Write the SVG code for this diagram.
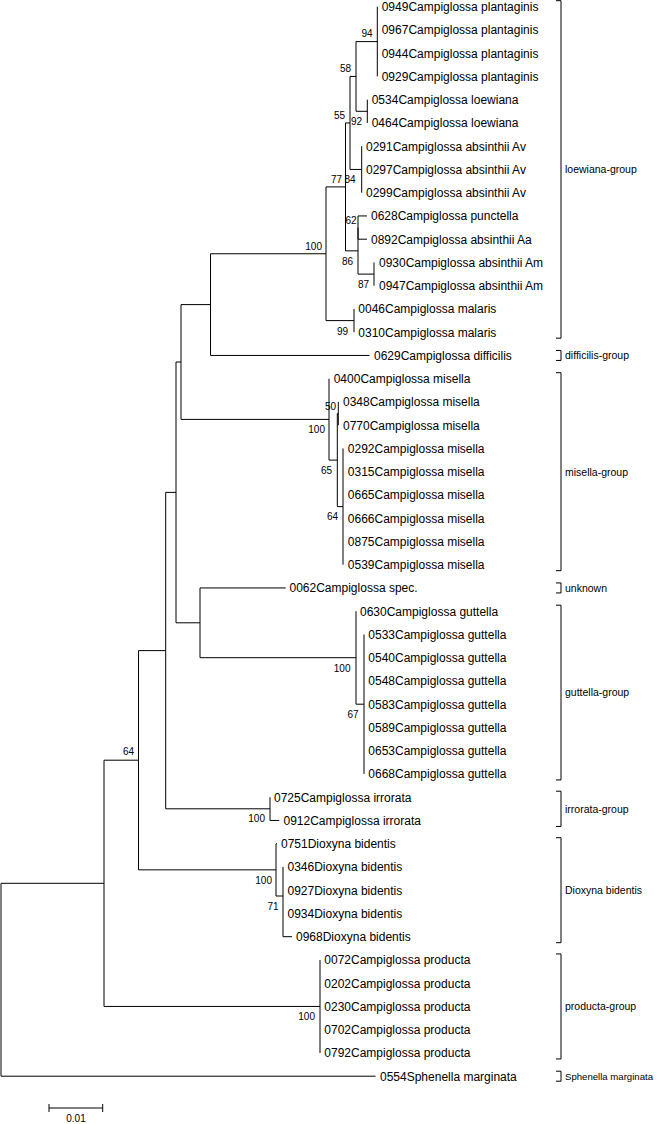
<svg xmlns="http://www.w3.org/2000/svg" width="659" height="1124" viewBox="0 0 659 1124">
<style>
.b{fill:none;stroke:#000;stroke-width:1}
text{font-family:"Liberation Sans",Arial,sans-serif;fill:#000}
.t{font-size:12px}
.s{font-size:10px;text-anchor:end}
.g{font-size:10.5px}
</style>
<rect width="659" height="1124" fill="#fff"/>
<g id="connectors" class="b">
<path d="M1 883.3V1076.2M1 883.3H104M1 1076.2H375.5"/>
<path d="M104 760.2V1006.45M104 760.2H138.5M104 1006.45H320"/>
<path d="M320 959.95V1052.95"/>
<path d="M138.5 650.6V869.85M138.5 650.6H165.7M138.5 869.85H276"/>
<path d="M276 843.7V896M276 843.7H277M276 896H283"/>
<path d="M283 866.95V936.7M283 936.7H292"/>
<path d="M165.7 492.4V808.8M165.7 492.4H176M165.7 808.8H270"/>
<path d="M270 797.2V820.45M270 820.45H279.3"/>
<path d="M176 362V622.8M176 362H181M176 622.8H200"/>
<path d="M200 587.95V657.7M200 587.95H285.7M200 657.7H356"/>
<path d="M356 611.2V704.2M356 704.2H364"/>
<path d="M364 634.45V773.95"/>
<path d="M181 304.6V419.4M181 304.6H210.5M181 419.4H329"/>
<path d="M329 378.7V460.1M329 460.1H337.3"/>
<path d="M337.3 413.6V506.6M337.3 413.6H338.3M337.3 506.6H343"/>
<path d="M338.3 401.95V425.2"/>
<path d="M343 448.45V564.7"/>
<path d="M210.5 253.75V355.45M210.5 253.75H326M210.5 355.45H369.5"/>
<path d="M326 186.9V320.6M326 186.9H345.5M326 320.6H354"/>
<path d="M354 308.95V332.2"/>
<path d="M345.5 122.95V250.85M345.5 122.95H350M345.5 250.85H358"/>
<path d="M350 76.45V169.45M350 76.45H356M350 169.45H361.7"/>
<path d="M356 41.6V111.3M356 41.6H377.3M356 111.3H367.3"/>
<path d="M377.3 6.7V76.45"/>
<path d="M367.3 99.7V122.95"/>
<path d="M361.7 146.2V192.7"/>
<path d="M358 227.6V274.1M358 274.1H374"/>
<path d="M358 215.95V239.2M358 215.95H367M358 239.2H367"/>
<path d="M374 262.45V285.7"/>
</g>
<g id="leaves" class="t">
<g id="n0949"><text x="381.7" y="11">0949Campiglossa plantaginis</text></g>
<g id="n0967"><text x="381.7" y="34.25">0967Campiglossa plantaginis</text></g>
<g id="n0944"><text x="381.7" y="57.5">0944Campiglossa plantaginis</text></g>
<g id="n0929"><text x="381.7" y="80.75">0929Campiglossa plantaginis</text></g>
<g id="n0534"><text x="371.7" y="104">0534Campiglossa loewiana</text></g>
<g id="n0464"><text x="371.7" y="127.25">0464Campiglossa loewiana</text></g>
<g id="n0291"><text x="366" y="150.5">0291Campiglossa absinthii Av</text></g>
<g id="n0297"><text x="366" y="173.75">0297Campiglossa absinthii Av</text></g>
<g id="n0299"><text x="366" y="197">0299Campiglossa absinthii Av</text></g>
<g id="n0628"><text x="371" y="220.25">0628Campiglossa punctella</text></g>
<g id="n0892"><text x="371" y="243.5">0892Campiglossa absinthii Aa</text></g>
<g id="n0930"><text x="379" y="266.75">0930Campiglossa absinthii Am</text></g>
<g id="n0947"><text x="379" y="290">0947Campiglossa absinthii Am</text></g>
<g id="n0046"><text x="358.3" y="313.25">0046Campiglossa malaris</text></g>
<g id="n0310"><text x="358.3" y="336.5">0310Campiglossa malaris</text></g>
<g id="n0629"><text x="374" y="359.75">0629Campiglossa difficilis</text></g>
<g id="n0400"><text x="333.7" y="383">0400Campiglossa misella</text></g>
<g id="n0348"><text x="343" y="406.25">0348Campiglossa misella</text></g>
<g id="n0770"><text x="343" y="429.5">0770Campiglossa misella</text></g>
<g id="n0292"><text x="347.8" y="452.75">0292Campiglossa misella</text></g>
<g id="n0315"><text x="347.8" y="476">0315Campiglossa misella</text></g>
<g id="n0665"><text x="347.8" y="499.25">0665Campiglossa misella</text></g>
<g id="n0666"><text x="347.8" y="522.5">0666Campiglossa misella</text></g>
<g id="n0875"><text x="347.8" y="545.75">0875Campiglossa misella</text></g>
<g id="n0539"><text x="347.8" y="569">0539Campiglossa misella</text></g>
<g id="n0062"><text x="289.5" y="592.25">0062Campiglossa spec.</text></g>
<g id="n0630"><text x="360" y="615.5">0630Campiglossa guttella</text></g>
<g id="n0533"><text x="368.3" y="638.75">0533Campiglossa guttella</text></g>
<g id="n0540"><text x="368.3" y="662">0540Campiglossa guttella</text></g>
<g id="n0548"><text x="368.3" y="685.25">0548Campiglossa guttella</text></g>
<g id="n0583"><text x="368.3" y="708.5">0583Campiglossa guttella</text></g>
<g id="n0589"><text x="368.3" y="731.75">0589Campiglossa guttella</text></g>
<g id="n0653"><text x="368.3" y="755">0653Campiglossa guttella</text></g>
<g id="n0668"><text x="368.3" y="778.25">0668Campiglossa guttella</text></g>
<g id="n0725"><text x="274" y="801.5">0725Campiglossa irrorata</text></g>
<g id="n0912"><text x="283.5" y="824.75">0912Campiglossa irrorata</text></g>
<g id="n0751"><text x="281" y="848">0751Dioxyna bidentis</text></g>
<g id="n0346"><text x="287.5" y="871.25">0346Dioxyna bidentis</text></g>
<g id="n0927"><text x="287.5" y="894.5">0927Dioxyna bidentis</text></g>
<g id="n0934"><text x="287.5" y="917.75">0934Dioxyna bidentis</text></g>
<g id="n0968"><text x="296" y="941">0968Dioxyna bidentis</text></g>
<g id="n0072"><text x="324.3" y="964.25">0072Campiglossa producta</text></g>
<g id="n0202"><text x="324.3" y="987.5">0202Campiglossa producta</text></g>
<g id="n0230"><text x="324.3" y="1010.75">0230Campiglossa producta</text></g>
<g id="n0702"><text x="324.3" y="1034">0702Campiglossa producta</text></g>
<g id="n0792"><text x="324.3" y="1057.25">0792Campiglossa producta</text></g>
<g id="n0554"><text x="380" y="1080.5">0554Sphenella marginata</text></g>
</g>
<g id="bootstrap" class="s">
<g id="bs94"><text x="372.5" y="37">94</text></g>
<g id="bs58"><text x="351" y="72">58</text></g>
<g id="bs55"><text x="345" y="118.5">55</text></g>
<g id="bs92"><text x="362" y="125">92</text></g>
<g id="bs84"><text x="355.5" y="183">84</text></g>
<g id="bs77"><text x="342" y="183">77</text></g>
<g id="bs62"><text x="356.5" y="223.5">62</text></g>
<g id="bs86"><text x="353" y="264.5">86</text></g>
<g id="bs87"><text x="369" y="288">87</text></g>
<g id="bs100h"><text x="322" y="249.5">100</text></g>
<g id="bs99"><text x="348" y="334.5">99</text></g>
<g id="bs100r"><text x="325" y="433">100</text></g>
<g id="bs50"><text x="336" y="409.5">50</text></g>
<g id="bs65"><text x="332" y="473.5">65</text></g>
<g id="bs64u"><text x="338" y="520">64</text></g>
<g id="bs100v"><text x="350.5" y="671.5">100</text></g>
<g id="bs67"><text x="358.5" y="717.5">67</text></g>
<g id="bs100i"><text x="265" y="822">100</text></g>
<g id="bs100d"><text x="272" y="883.5">100</text></g>
<g id="bs71"><text x="278.5" y="909.5">71</text></g>
<g id="bs100p"><text x="315" y="1020">100</text></g>
<g id="bs64a"><text x="134" y="755">64</text></g>
</g>
<g id="groups">
<g id="grp-loewiana"><path class="b" d="M556 0.7H561V338.2H556"/><text class="g" x="565" y="173.2">loewiana-group</text></g>
<g id="grp-difficilis"><path class="b" d="M556 350.45H561V360.45H556"/><text class="g" x="565" y="359.2">difficilis-group</text></g>
<g id="grp-misella"><path class="b" d="M556 372.7H561V570.7H556"/><text class="g" x="565" y="475.5">misella-group</text></g>
<g id="grp-unknown"><path class="b" d="M556 582.95H561V592.95H556"/><text class="g" x="565" y="591.7">unknown</text></g>
<g id="grp-guttella"><path class="b" d="M556 605.2H561V779.95H556"/><text class="g" x="565" y="696.4">guttella-group</text></g>
<g id="grp-irrorata"><path class="b" d="M556 791.2H561V826.45H556"/><text class="g" x="565" y="812.6">irrorata-group</text></g>
<g id="grp-dioxyna"><path class="b" d="M556 837.7H561V942.7H556"/><text class="g" x="565" y="894">Dioxyna bidentis</text></g>
<g id="grp-producta"><path class="b" d="M556 953.95H561V1058.95H556"/><text class="g" x="565" y="1010.2">producta-group</text></g>
<g id="grp-sphenella"><path class="b" d="M556 1071.2H561V1081.2H556"/><text x="565" y="1079.8" font-size="9.6">Sphenella marginata</text></g>
</g>
<g id="scalebar">
<path class="b" d="M49 1108H102.7M49 1104V1112M102.7 1104V1112"/>
<text x="76" y="1122" font-size="10" text-anchor="middle">0.01</text>
</g>
</svg>
